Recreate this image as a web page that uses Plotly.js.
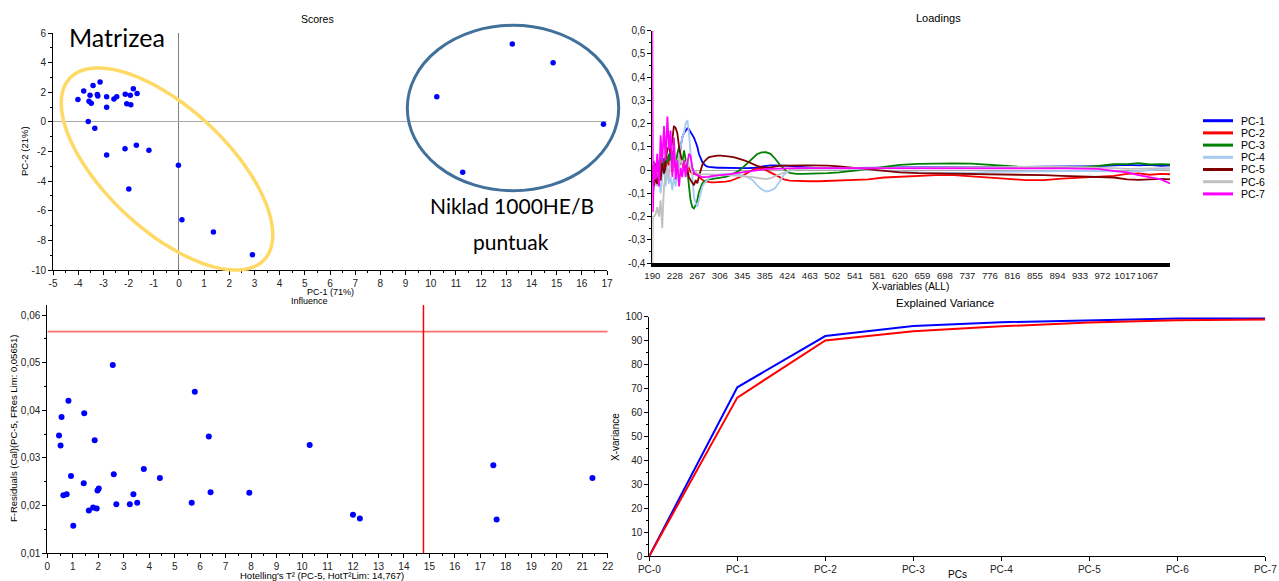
<!DOCTYPE html>
<html><head><meta charset="utf-8">
<script src="https://cdn.plot.ly/plotly-3.0.1.min.js"></script>
<style>html,body{margin:0;padding:0;background:#fff;overflow:hidden}#chart{width:1279px;height:581px}</style>
</head><body><div id="chart"></div>
<script>
// ---------- Scores (PC-1 vs PC-2) ----------
const scoresPC1 = [-4.01,-3.78,-3.41,-3.53,-3.57,-3.48,-3.24,-3.22,-3.13,-2.87,-2.87,-2.58,-2.47,-2.13,-1.81,-1.66,-1.93,-2.07,-1.91,-3.60,-3.34,-2.87,-2.14,-1.69,-1.19,-0.02,-1.99,0.12,1.37,2.92,13.24,14.86,10.24,16.86,11.27];
const scoresPC2 = [1.51,2.09,2.45,1.80,1.40,1.26,1.85,1.74,2.70,1.69,0.99,1.55,1.69,1.87,2.23,1.91,1.80,1.22,1.15,0.02,-0.43,-2.23,-1.82,-1.58,-1.92,-2.93,-4.53,-6.60,-7.43,-8.97,5.25,3.99,1.69,-0.16,-3.40];
const scoresXTicks = [-5,-4,-3,-2,-1,0,1,2,3,4,5,6,7,8,9,10,11,12,13,14,15,16,17];
const scoresYTicks = [-10,-8,-6,-4,-2,0,2,4,6];

// ---------- Loadings ----------
const loadX = [0,0.03,0.07,0.15,0.22,0.30,0.37,0.44,0.52,0.59,
 0.67,0.74,0.81,0.89,0.96,1.04,1.11,1.19,1.26,1.33,
 1.41,1.48,1.56,1.63,1.70,1.78,1.85,1.93,2.00,2.07,
 2.15,2.22,2.30,2.40,2.50,2.62,2.75,2.90,3.05,3.25,
 3.45,3.65,3.85,4.05,4.25,4.45,4.65,4.85,5.05,5.25,
 5.45,5.65,5.85,6.10,6.40,6.70,7.00,7.40,7.80,8.30,
 8.90,9.60,10.3,11.0,11.8,12.6,13.4,14.2,15.0,15.8,
 16.6,17.4,18.2,19.0,19.8,20.5,21.1,21.6,22.1,22.6,
 23.0];
const loadPC1 = [0.0,-0.05,0.02,-0.03,0.03,-0.02,0.04,0.0,0.05,-0.01,
 0.06,0.02,0.08,0.03,0.05,0.01,0.04,0.04,0.10,0.14,
 0.16,0.17,0.18,0.175,0.165,0.15,0.14,0.12,0.10,0.07,
 0.05,0.035,0.025,0.017,0.014,0.012,0.011,0.010,0.010,0.009,
 0.008,0.008,0.008,0.008,0.008,0.008,0.010,0.015,0.018,0.020,
 0.020,0.020,0.019,0.018,0.015,0.012,0.010,0.008,0.008,0.009,
 0.010,0.010,0.010,0.011,0.011,0.012,0.013,0.013,0.014,0.014,
 0.014,0.015,0.015,0.016,0.017,0.020,0.022,0.020,0.022,0.018,
 0.020];
const loadPC2 = [0.02,-0.03,0.03,-0.02,0.04,0.0,0.05,-0.02,0.03,0.01,
 0.06,0.02,0.05,-0.01,0.04,0.01,0.03,0.015,0.04,0.03,
 0.0,0.015,0.03,0.008,-0.008,-0.015,-0.017,-0.015,-0.017,-0.029,
 -0.036,-0.043,-0.048,-0.050,-0.052,-0.053,-0.053,-0.053,-0.052,-0.050,
 -0.047,-0.040,-0.032,-0.022,-0.010,0.0,0.006,0.008,0.0,-0.010,
 -0.022,-0.032,-0.040,-0.045,-0.047,-0.048,-0.048,-0.048,-0.047,-0.046,
 -0.044,-0.040,-0.032,-0.028,-0.025,-0.022,-0.022,-0.028,-0.035,-0.038,
 -0.043,-0.043,-0.037,-0.033,-0.030,-0.025,-0.016,-0.014,-0.020,-0.016,
 -0.018];
const loadPC3 = [0.0,0.02,-0.02,0.03,0.0,0.04,-0.01,0.05,0.02,0.06,
 0.03,0.07,0.04,0.08,0.05,0.02,0.07,0.10,0.04,0.03,
 0.085,0.04,0.0,-0.07,-0.13,-0.16,-0.165,-0.15,-0.13,-0.095,
 -0.072,-0.058,-0.049,-0.043,-0.040,-0.039,-0.037,-0.036,-0.033,-0.029,
 -0.023,-0.014,-0.003,0.014,0.032,0.050,0.068,0.076,0.077,0.070,
 0.050,0.025,0.005,-0.012,-0.016,-0.016,-0.016,-0.015,-0.013,-0.010,
 -0.004,0.004,0.014,0.022,0.027,0.029,0.029,0.028,0.022,0.015,
 0.012,0.012,0.012,0.013,0.018,0.025,0.026,0.030,0.024,0.026,
 0.024];
const loadPC4 = [-0.04,-0.08,-0.09,-0.03,-0.07,-0.04,-0.10,-0.03,0.015,-0.07,
 0.0,-0.058,-0.03,-0.086,-0.03,-0.07,-0.015,0.015,0.10,0.14,
 0.16,0.20,0.215,0.16,0.07,-0.043,-0.115,-0.144,-0.158,-0.13,
 -0.094,-0.072,-0.058,-0.046,-0.037,-0.032,-0.026,-0.022,-0.019,-0.017,
 -0.016,-0.016,-0.017,-0.023,-0.032,-0.043,-0.065,-0.082,-0.092,-0.088,
 -0.078,-0.050,-0.020,-0.002,0.006,0.008,0.008,0.009,0.009,0.008,
 0.006,0.0,-0.004,-0.008,-0.010,-0.012,-0.012,-0.012,-0.008,-0.006,
 -0.005,-0.005,-0.004,-0.003,-0.004,-0.006,-0.008,-0.004,0.0,0.003,
 0.006];
const loadPC5 = [0.0,-0.03,-0.07,-0.03,-0.06,0.0,-0.045,0.03,-0.015,0.04,
 0.09,0.10,0.07,0.13,0.19,0.18,0.16,0.10,0.07,0.03,
 0.04,0.015,0.0,-0.03,-0.043,-0.057,-0.065,-0.043,-0.057,-0.029,
 0.0,0.022,0.036,0.046,0.055,0.058,0.061,0.062,0.062,0.061,
 0.058,0.055,0.050,0.043,0.036,0.026,0.018,0.013,0.010,0.012,
 0.016,0.018,0.019,0.020,0.020,0.020,0.020,0.020,0.019,0.016,
 0.010,0.003,-0.006,-0.010,-0.013,-0.014,-0.015,-0.016,-0.018,-0.020,
 -0.020,-0.022,-0.025,-0.028,-0.030,-0.032,-0.040,-0.042,-0.040,-0.038,
 -0.040];
const loadPC6 = [-0.42,-0.20,-0.20,-0.19,-0.16,-0.20,-0.13,-0.25,-0.07,-0.03,
 0.015,-0.03,0.04,0.0,0.07,0.04,0.015,0.058,0.03,0.043,
 0.015,0.03,0.043,0.015,0.015,0.007,0.0,-0.007,-0.014,-0.017,
 -0.017,-0.018,-0.018,-0.018,-0.018,-0.018,-0.019,-0.020,-0.020,-0.021,
 -0.022,-0.023,-0.024,-0.025,-0.027,-0.030,-0.033,-0.037,-0.039,-0.035,
 -0.027,-0.017,-0.008,0.0,0.003,0.005,0.006,0.006,0.006,0.006,
 0.006,0.007,0.008,0.009,0.010,0.012,0.012,0.013,0.013,0.014,
 0.014,0.014,0.014,0.013,0.012,0.008,0.005,0.006,0.004,0.006,
 0.008];
const loadPC7 = [0.60,-0.18,0.04,-0.04,0.07,-0.07,0.15,0.03,0.19,0.04,
 0.23,0.09,0.17,-0.03,0.14,-0.04,0.04,-0.07,0.01,-0.03,
 0.04,-0.03,0.03,0.07,0.06,0.01,-0.01,-0.02,-0.022,-0.025,
 -0.026,-0.030,-0.030,-0.030,-0.029,-0.026,-0.025,-0.024,-0.022,-0.020,
 -0.017,-0.014,-0.011,-0.009,-0.006,-0.003,0.0,0.002,0.004,0.005,
 0.006,0.007,0.008,0.008,0.008,0.008,0.008,0.008,0.008,0.008,
 0.009,0.010,0.010,0.010,0.010,0.010,0.010,0.010,0.010,0.010,
 0.009,0.008,0.007,0.006,0.005,-0.003,-0.010,-0.022,-0.030,-0.040,
 -0.058];
const loadNames = ['PC-1','PC-2','PC-3','PC-4','PC-5','PC-6','PC-7'];
const loadColors = ['#0000FF','#FF0000','#008000','#A6CAF0','#800000','#C0C0C0','#FF00FF'];
const loadTickText = ['190','228','267','306','345','385','424','463','502','541','581','620','659','698','737','776','816','855','894','933','972','1017','1067'];
const loadYTicks = [-0.4,-0.3,-0.2,-0.1,0,0.1,0.2,0.3,0.4,0.5,0.6];
const loadYText = ['-0,4','-0,3','-0,2','-0,1','0','0,1','0,2','0,3','0,4','0,5','0,6'];

// ---------- Influence ----------
const hotT2 = [0.46,0.52,0.56,0.83,0.93,0.63,0.76,1.02,1.45,1.43,1.63,1.80,1.94,1.86,1.97,2.02,2.57,2.61,2.71,3.24,3.38,3.53,3.79,4.42,5.67,5.79,6.34,6.41,7.93,10.30,12.00,12.27,17.51,17.64,21.40];
const fRes = [0.0347,0.0326,0.0386,0.0420,0.0262,0.0222,0.0224,0.0158,0.0394,0.0247,0.0190,0.0196,0.0194,0.0337,0.0232,0.0236,0.0495,0.0266,0.0203,0.0203,0.0224,0.0206,0.0277,0.0258,0.0206,0.0439,0.0345,0.0228,0.0227,0.0327,0.0181,0.0173,0.0285,0.0171,0.0258];
const fResLim = 0.05651;
const hotT2Lim = 14.767;
const inflXTicks = [0,1,2,3,4,5,6,7,8,9,10,11,12,13,14,15,16,17,18,19,20,21,22];
const inflYTicks = [0.01,0.02,0.03,0.04,0.05,0.06];
const inflYText = ['0,01','0,02','0,03','0,04','0,05','0,06'];

// ---------- Explained variance ----------
const pcs = ['PC-0','PC-1','PC-2','PC-3','PC-4','PC-5','PC-6','PC-7'];
const calVar = [0,70.5,91.9,96.1,97.7,98.6,99.2,99.3];
const valVar = [0,66.2,90.1,93.9,96.0,97.6,98.5,98.8];
const varYTicks = [0,10,20,30,40,50,60,70,80,90,100];

// ---------- helpers (layout only) ----------
const W = 1279, H = 581;
const px = X => X / W, py = Y => 1 - Y / H;
const FONT = 'Liberation Sans, Arial, sans-serif';
const tickFont = {family: FONT, size: 10, color: '#222'};
function axisBase(extra) {
  return Object.assign({
    showline: true, linecolor: '#000', linewidth: 1, mirror: false,
    ticks: 'outside', ticklen: 4, tickwidth: 1, tickcolor: '#000',
    showgrid: false, zeroline: false, tickfont: tickFont, fixedrange: true, tickangle: 0
  }, extra);
}
function minor(tick0, dtick) {
  return {tickmode: 'linear', tick0: tick0, dtick: dtick, ticklen: 2, tickcolor: '#000', tickwidth: 1, ticks: 'outside', showgrid: false};
}

const traces = [];
traces.push({x: scoresPC1, y: scoresPC2, mode: 'markers', type: 'scatter', xaxis: 'x', yaxis: 'y',
  marker: {color: '#0000FF', size: 5.5}, showlegend: false, hoverinfo: 'skip'});
const loadSeries = [loadPC1, loadPC2, loadPC3, loadPC4, loadPC5, loadPC6, loadPC7];
loadSeries.forEach((s, i) => traces.push({x: loadX, y: s, mode: 'lines', type: 'scatter', xaxis: 'x2', yaxis: 'y2',
  name: loadNames[i], line: {color: loadColors[i], width: 1.8}, showlegend: false, hoverinfo: 'skip'}));
traces.push({x: hotT2, y: fRes, mode: 'markers', type: 'scatter', xaxis: 'x3', yaxis: 'y3',
  marker: {color: '#0000FF', size: 6}, showlegend: false, hoverinfo: 'skip'});
traces.push({x: pcs, y: calVar, mode: 'lines', type: 'scatter', xaxis: 'x4', yaxis: 'y4',
  line: {color: '#0000FF', width: 2}, showlegend: false, hoverinfo: 'skip'});
traces.push({x: pcs, y: valVar, mode: 'lines', type: 'scatter', xaxis: 'x4', yaxis: 'y4',
  line: {color: '#FF0000', width: 2}, showlegend: false, hoverinfo: 'skip'});

function ellipsePath(cx, cy, a, b, deg) {
  const t = deg * Math.PI / 180, pts = [];
  for (let i = 0; i <= 90; i++) {
    const u = 2 * Math.PI * i / 90;
    const X = cx + a * Math.cos(u) * Math.cos(t) - b * Math.sin(u) * Math.sin(t);
    const Y = cy + a * Math.cos(u) * Math.sin(t) + b * Math.sin(u) * Math.cos(t);
    pts.push(px(X).toFixed(5) + ',' + py(Y).toFixed(5));
  }
  return 'M' + pts.join('L') + 'Z';
}

const shapes = [
  {type: 'path', xref: 'paper', yref: 'paper', path: ellipsePath(167, 169, 133, 61, 43),
   line: {color: '#FFD966', width: 3.5}, layer: 'above'},
  {type: 'circle', xref: 'paper', yref: 'paper', x0: px(513 - 105.7), x1: px(513 + 105.7), y0: py(108 + 82.7), y1: py(108 - 82.7),
   line: {color: '#41709A', width: 3}, layer: 'above'},
  {type: 'line', xref: 'x3', yref: 'y3', x0: 0, x1: 22, y0: fResLim, y1: fResLim, line: {color: '#FF6F6F', width: 1.6}},
  {type: 'line', xref: 'x3', yref: 'y3 domain', x0: hotT2Lim, x1: hotT2Lim, y0: 0, y1: 1, line: {color: '#FF0000', width: 1.5}}
];
// custom legend for loadings
loadNames.forEach((n, i) => {
  const Y = 120.7 + 12.2 * i;
  shapes.push({type: 'line', xref: 'paper', yref: 'paper', x0: px(1203), x1: px(1233), y0: py(Y), y1: py(Y),
    line: {color: loadColors[i], width: 3}});
});

function ann(text, X, Y, size, opts) {
  return Object.assign({text: text, x: px(X), y: py(Y), xref: 'paper', yref: 'paper', showarrow: false,
    xanchor: 'center', yanchor: 'middle', font: {family: FONT, size: size, color: '#000'}}, opts || {});
}
const annotations = [
  ann('Scores', 317, 19, 10.5),
  ann('PC-1 (71%)', 330, 292, 9),
  ann('PC-2 (21%)', 25, 151, 9.5, {textangle: -90}),
  ann('Loadings', 939, 18, 11),
  ann('X-variables (ALL)', 910, 286, 10),
  ann('Influence', 309, 301, 9),
  ann("Hotelling's T² (PC-5, HotT²Lim: 14,767)", 322, 575, 9.5),
  ann('F-Residuals (Cal)(PC-5, FRes Lim: 0,05651)', 13, 429, 9.5, {textangle: -90}),
  ann('Explained Variance', 945, 303, 11.5),
  ann('PCs', 957, 574, 10),
  ann('X-variance', 615, 437, 10, {textangle: -90}),
  ann('Matrizea', 117, 37, 25, {font: {family: 'Lato, Noto Sans, sans-serif', size: 25, color: '#000'}}),
  ann('Niklad 1000HE/B', 512, 205, 21, {font: {family: 'Lato, Noto Sans, sans-serif', size: 21, color: '#000'}}),
  ann('puntuak', 511, 241, 21, {font: {family: 'Lato, Noto Sans, sans-serif', size: 21, color: '#000'}})
];
loadNames.forEach((n, i) => {
  annotations.push(ann(n, 1239, 120.7 + 12.2 * i, 10.5, {xanchor: 'left'}));
});

const layout = {
  width: W, height: H, margin: {l: 0, r: 0, t: 0, b: 0, pad: 0},
  paper_bgcolor: '#fff', plot_bgcolor: 'rgba(0,0,0,0)', showlegend: false,
  font: {family: FONT, size: 10, color: '#222'},
  xaxis: axisBase({domain: [px(53), px(607)], anchor: 'y', range: [-5, 17],
    tickmode: 'array', tickvals: scoresXTicks, ticktext: scoresXTicks.map(String), minor: minor(0, 0.5),
    zeroline: true, zerolinecolor: '#808080', zerolinewidth: 1}),
  yaxis: axisBase({domain: [py(270), py(33)], anchor: 'x', range: [-10, 6],
    tickmode: 'array', tickvals: scoresYTicks, ticktext: scoresYTicks.map(String), minor: minor(0, 1),
    zeroline: true, zerolinecolor: '#A8A8A8', zerolinewidth: 1}),
  xaxis2: axisBase({domain: [px(652.3), px(1170)], anchor: 'y2', range: [0, 23],
    tickmode: 'array', tickvals: loadTickText.map((t, i) => i), ticktext: loadTickText,
    linewidth: 4, ticks: '', ticklen: 0, tickfont: {family: FONT, size: 9.6, color: '#222'}}),
  yaxis2: axisBase({domain: [py(263), py(30.7)], anchor: 'x2', range: [-0.4, 0.6],
    tickmode: 'array', tickvals: loadYTicks, ticktext: loadYText, minor: minor(0, 0.05),
    zeroline: true, zerolinecolor: '#A8A8A8', zerolinewidth: 1}),
  xaxis3: axisBase({domain: [px(47.3), px(607.7)], anchor: 'y3', range: [0, 22],
    tickmode: 'array', tickvals: inflXTicks, ticktext: inflXTicks.map(String), minor: minor(0, 0.5)}),
  yaxis3: axisBase({domain: [py(553.3), py(305)], anchor: 'x3', range: [0.01, 0.0621],
    tickmode: 'array', tickvals: inflYTicks, ticktext: inflYText, minor: minor(0, 0.005)}),
  xaxis4: axisBase({domain: [px(649.3), px(1265.3)], anchor: 'y4', type: 'category', range: [0, 7],
    categoryorder: 'array', categoryarray: pcs}),
  yaxis4: axisBase({domain: [py(556), py(316.7)], anchor: 'x4', range: [0, 100],
    tickmode: 'array', tickvals: varYTicks, ticktext: varYTicks.map(String), minor: minor(0, 5)}),
  shapes: shapes,
  annotations: annotations
};

Plotly.newPlot('chart', traces, layout, {staticPlot: true, displayModeBar: false});
</script></body></html>
